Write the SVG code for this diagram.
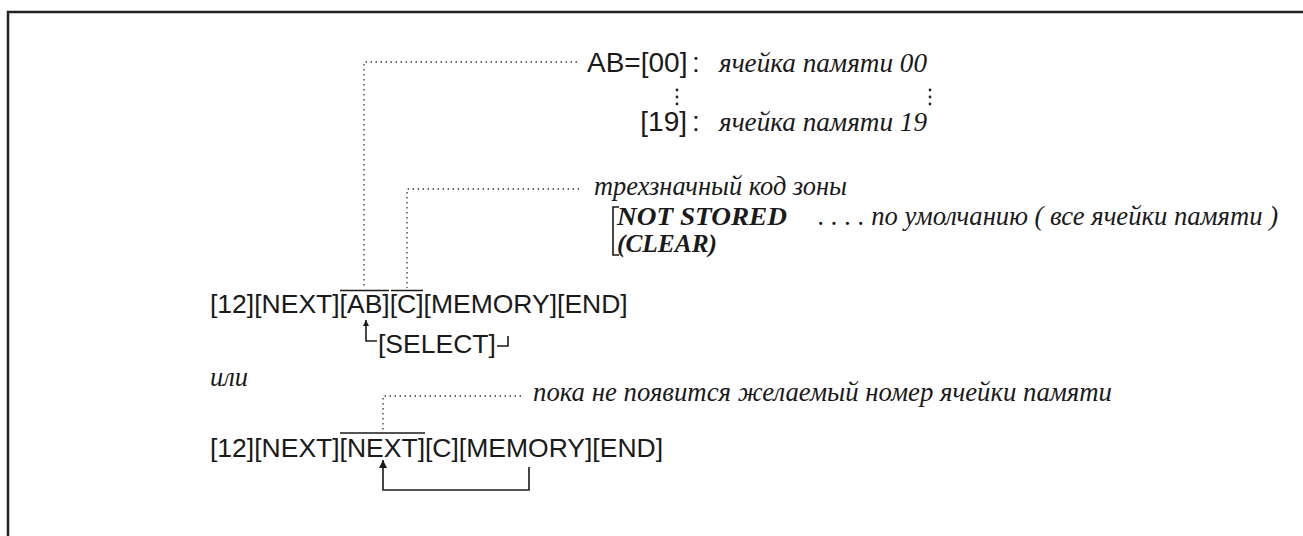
<svg xmlns="http://www.w3.org/2000/svg" width="1303" height="536" viewBox="0 0 1303 536">
<defs>
<style>
.sans{font-family:"Liberation Sans",Arial,sans-serif;fill:#1a1a1a}
.it{font-family:"Liberation Serif","Times New Roman",serif;font-style:italic;fill:#1a1a1a;font-size:26.5px}
.bi{font-family:"Liberation Serif","Times New Roman",serif;font-style:italic;font-weight:bold;fill:#1a1a1a;font-size:26px}
.key{font-size:26.5px}
.hdr{font-size:28px}
.dot{fill:none;stroke:#333;stroke-width:1.3;stroke-dasharray:1.4 3.6}
.ln{fill:none;stroke:#1a1a1a;stroke-width:1.6}
.frame{fill:none;stroke:#222;stroke-width:2.5}
</style>
<marker id="ah" viewBox="0 0 10 10" refX="10" refY="5" markerWidth="9" markerHeight="6" markerUnits="userSpaceOnUse" orient="auto">
<path d="M0,0 L10,5 L0,10 z" fill="#1a1a1a"/>
</marker>
<marker id="ah2" viewBox="0 0 10 10" refX="10" refY="5" markerWidth="12" markerHeight="8" markerUnits="userSpaceOnUse" orient="auto">
<path d="M0,0 L10,5 L0,10 z" fill="#1a1a1a"/>
</marker>
</defs>
<rect width="1303" height="536" fill="#fff"/>
<path class="frame" d="M8,536 V12 H1303"/>

<g id="connectors">
<path class="dot" d="M577,62 H364 V288"/>
<path class="dot" d="M579,189 H407 V288"/>
<path class="dot" d="M521,396 H383 V430"/>
<path class="ln" d="M377,341 H366 V320" marker-end="url(#ah)"/>
<path class="ln" d="M497,346 H508 V336"/>
<path class="ln" d="M529,467 V490 H383 V460" marker-end="url(#ah2)"/>
<path class="ln" d="M340,290.5 H389 M391,290.5 H423"/>
<path class="ln" d="M340,433 H425"/>
</g>

<g id="memory-range">
<text class="sans hdr" x="587" y="72">AB=[00]</text>
<text class="sans hdr" x="692" y="72">:</text>
<text class="it" x="719" y="72" textLength="208" lengthAdjust="spacingAndGlyphs">ячейка памяти 00</text>
<g fill="#222"><circle cx="677" cy="90" r="1.4"/><circle cx="677" cy="97" r="1.4"/><circle cx="677" cy="104" r="1.4"/>
<circle cx="930" cy="90" r="1.4"/><circle cx="930" cy="97" r="1.4"/><circle cx="930" cy="104" r="1.4"/></g>
<text class="sans hdr" x="687" y="131" text-anchor="end">[19]</text>
<text class="sans hdr" x="692" y="131">:</text>
<text class="it" x="719" y="131" textLength="208" lengthAdjust="spacingAndGlyphs">ячейка памяти 19</text>
</g>

<g id="zone-code">
<text class="it" x="594" y="195" textLength="253" lengthAdjust="spacingAndGlyphs">трехзначный код зоны</text>
<path class="ln" d="M619,207 H613 V255 H619" stroke-width="1.3"/>
<text class="bi" x="617" y="225" textLength="170" lengthAdjust="spacingAndGlyphs">NOT STORED</text>
<text class="it" x="818" y="225" textLength="460" lengthAdjust="spacingAndGlyphs">. . . . по умолчанию ( все ячейки памяти )</text>
<text class="bi" x="617" y="252" textLength="100" lengthAdjust="spacingAndGlyphs">(CLEAR)</text>
</g>

<g id="sequence-1">
<text class="sans key" x="210" y="313">[12][NEXT][AB][C][MEMORY][END]</text>
<text class="sans key" x="378" y="353">[SELECT]</text>
</g>

<g id="or-label">
<text class="it" x="210" y="386">или</text>
</g>

<g id="sequence-2">
<text class="it" x="533" y="401" textLength="579" lengthAdjust="spacingAndGlyphs">пока не появится желаемый номер ячейки памяти</text>
<text class="sans key" x="210" y="457">[12][NEXT][NEXT][C][MEMORY][END]</text>
</g>
</svg>
